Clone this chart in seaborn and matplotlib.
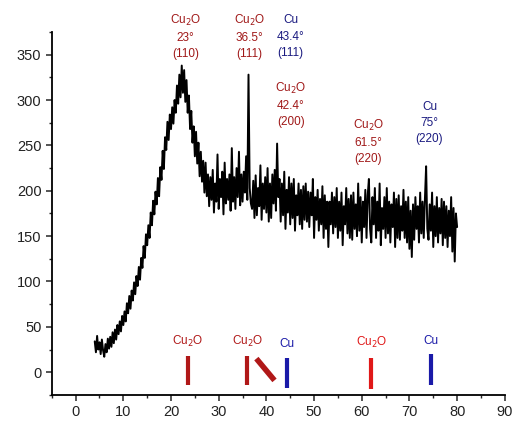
import numpy as np
import pandas as pd
import seaborn as sns
import matplotlib.pyplot as plt

# XRD pattern, 0.25 deg steps from 4 to 80
two_theta = np.arange(4, 80.01, 0.25)
intensity = [
    34, 22, 40, 25,  33, 20, 36, 24,  17, 31, 22, 37,  26, 39, 28, 44,
    32, 47, 36, 52,  42, 56, 45, 62,  52, 67, 56, 76,  65, 84, 70, 90,
    79, 99, 86, 106,  95, 116, 102, 126,  115, 139, 126, 152,  140, 162, 148, 176,
    162, 189, 174, 199,  185, 214, 194, 226,  212, 244, 224, 259,  245, 276, 256, 284,
    268, 292, 274, 300,  286, 316, 296, 328,  303, 338, 308, 333,  298, 322, 286, 305,
    268, 288, 253, 271,  238, 265, 230, 253,  216, 243, 210, 233,  198, 231, 194, 218,
    183, 215, 190, 223,  176, 208, 188, 240,  180, 213, 193, 221,  174, 231, 186, 213,
    190, 218, 178, 247,  188, 215, 180, 225,  193, 243, 184, 218,  188, 221, 198, 238,
    190, 328, 203, 186,  180, 211, 170, 217,  173, 203, 183, 228,  168, 208, 180, 215,
    176, 225, 166, 208,  170, 218, 186, 223,  178, 252, 193, 213,  166, 208, 173, 221,
    158, 201, 176, 215,  163, 208, 170, 213,  156, 195, 173, 208,  163, 201, 158, 205,
    168, 208, 166, 199,  160, 198, 173, 213,  148, 193, 168, 201,  156, 191, 163, 205,
    148, 195, 158, 188,  138, 188, 163, 198,  153, 193, 160, 203,  148, 188, 156, 198,
    140, 183, 163, 203,  153, 191, 148, 195,  146, 198, 158, 185,  150, 208, 156, 193,
    143, 188, 160, 201,  148, 195, 213, 158,  143, 193, 163, 203,  148, 188, 156, 208,
    140, 181, 158, 193,  148, 203, 153, 188,  143, 185, 160, 198,  138, 191, 148, 195,
    146, 183, 156, 201,  148, 188, 143, 193,  136, 178, 127, 185,  146, 193, 158, 183,
    143, 198, 153, 188,  148, 191, 227, 158,  146, 185, 156, 198,  138, 183, 150, 193,
    143, 181, 153, 191,  140, 188, 148, 183,  138, 178, 150, 193,  133, 181, 122, 175,
    160,
]

# reference stick pattern
stick_pos = [23.5, 36.0, 44.4, 62.0, 74.6]
stick_top = [18, 18, 16, 16, 20]
stick_bottom = [-14, -14, -17, -18, -14]
stick_colors = ['#b01818', '#b01818', '#1a1aa8', '#e01818', '#1a1aa8']
stick_names = ['Cu$_2$O', 'Cu$_2$O', 'Cu', 'Cu$_2$O', 'Cu']

# peak annotations
peak_labels = ['Cu$_2$O\n23°\n(110)', 'Cu$_2$O\n36.5°\n(111)', 'Cu\n43.4°\n(111)',
               'Cu$_2$O\n42.4°\n(200)', 'Cu$_2$O\n61.5°\n(220)', 'Cu\n75°\n(220)']
peak_x = [23.1, 36.4, 45.1, 45.1, 61.4, 74.2]
peak_y = [370, 370, 370, 295, 254, 275]
peak_colors = ['#a01818', '#a01818', '#1a1a80', '#a01818', '#a01818', '#1a1a80']

sns.set_style('ticks')
plt.rcParams['font.family'] = ['Liberation Sans', 'DejaVu Sans']

df = pd.DataFrame({'two_theta': two_theta, 'intensity': intensity})

fig = plt.figure(figsize=(5.13, 4.21), dpi=100)
ax = fig.add_axes([0.101, 0.062, 0.883, 0.862])
sns.lineplot(data=df, x='two_theta', y='intensity', color='black', lw=1.4, ax=ax)

for p, t, b, c in zip(stick_pos, stick_top, stick_bottom, stick_colors):
    ax.plot([p, p], [b, t], color=c, lw=3, solid_capstyle='butt')
ax.plot([37.9, 41.7], [15, -9], color='#b01818', lw=4, solid_capstyle='butt')

for p, t, n, c in zip(stick_pos, stick_top, stick_names, stick_colors):
    ax.text(p, t + 8, n, color=c, ha='center', va='bottom', fontsize=8.5)

for lab, x, y, c in zip(peak_labels, peak_x, peak_y, peak_colors):
    ax.text(x, y, lab, color=c, ha='center', va='center', fontsize=8.5,
            linespacing=1.45, clip_on=False)

ax.set_xlim(-5, 90)
ax.set_ylim(-25, 375)
ax.set_xticks(range(0, 91, 10))
ax.set_xticks(range(-5, 90, 10), minor=True)
ax.set_yticks(range(0, 351, 50))
ax.set_yticks(range(-25, 376, 50), minor=True)
ax.tick_params(which='major', direction='out', length=4, width=1.1,
               labelsize=10.5, labelcolor='#222222')
ax.tick_params(which='minor', direction='out', length=2.5, width=1.0)
ax.set_xlabel('')
ax.set_ylabel('')
sns.despine(ax=ax)
for s in ['left', 'bottom']:
    ax.spines[s].set_linewidth(1.3)
    ax.spines[s].set_color('black')

fig.savefig('out.png', dpi=100)
